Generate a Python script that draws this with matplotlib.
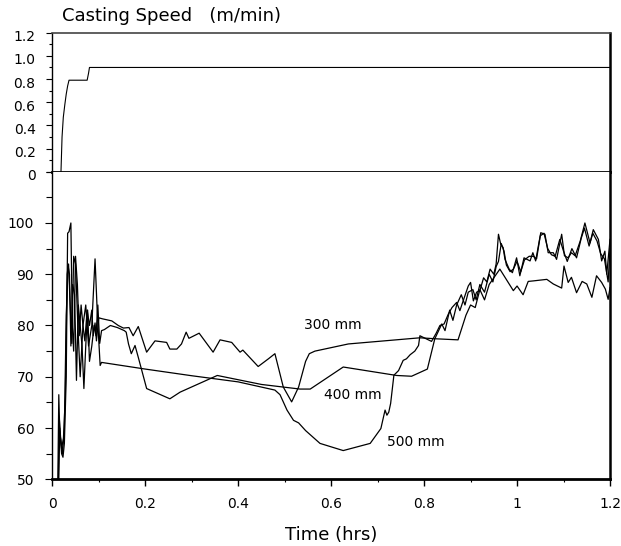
import matplotlib
matplotlib.use("Agg")
import matplotlib.pyplot as plt
from matplotlib.ticker import MultipleLocator, FixedLocator, FixedFormatter
from matplotlib.transforms import ScaledTranslation

plt.rcParams['font.family'] = ['DejaVu Sans']

# casting speed (m/min)
speed_t = [0.0187, 0.021, 0.0237, 0.027, 0.030, 0.033, 0.036, 0.040, 0.075, 0.078, 0.080, 1.2]
speed_v = [0.0, 0.30, 0.47, 0.58, 0.67, 0.74, 0.79, 0.79, 0.79, 0.85, 0.90, 0.90]

# 300 mm
t300 = [0.014, 0.016, 0.020, 0.023, 0.026, 0.030, 0.033, 0.036, 0.040, 0.043, 0.046, 0.050,
        0.054, 0.058, 0.062, 0.066, 0.070, 0.075, 0.080, 0.085, 0.088, 0.092, 0.095, 0.100,
        0.108, 0.128, 0.142, 0.153, 0.165, 0.174, 0.185, 0.203, 0.221, 0.246, 0.253, 0.268,
        0.278, 0.288, 0.294, 0.316, 0.346, 0.361, 0.386, 0.404, 0.410, 0.443, 0.465, 0.479,
        0.497, 0.515, 0.530, 0.545, 0.553, 0.565, 0.637, 0.791, 0.827, 0.873, 0.884, 0.890,
        0.900, 0.910, 0.920, 0.930, 0.940, 0.963, 0.992, 1.000, 1.013, 1.024, 1.035, 1.064,
        1.078, 1.096, 1.101, 1.110, 1.117, 1.128, 1.140, 1.150, 1.161, 1.171, 1.182, 1.190,
        1.196, 1.200]
v300 = [50.0, 60.0, 55.0, 54.3, 57.0, 70.0, 98.0, 98.3, 100.0, 80.0, 75.0, 93.5,
        88.0, 78.0, 84.0, 80.0, 77.0, 83.0, 80.0, 83.0, 78.0, 80.5, 77.0, 81.5,
        81.3, 80.9, 80.0, 79.5, 79.6, 78.0, 79.8, 74.8, 77.0, 76.7, 75.4, 75.4,
        76.4, 78.7, 77.5, 78.5, 74.8, 77.2, 76.7, 74.8, 75.2, 72.0, 73.5, 74.5,
        68.0, 65.1, 68.0, 73.0, 74.5, 75.0, 76.4, 77.6, 77.4, 77.2, 80.3, 82.0,
        84.0, 83.5, 87.0, 85.0, 88.0, 91.0, 86.8, 87.7, 86.0, 88.6, 88.7, 89.0,
        88.1, 87.3, 91.6, 88.4, 89.4, 86.4, 88.6, 88.1, 85.5, 89.7, 88.4, 87.1,
        85.1, 87.4]

# 400 mm
t400 = [0.013, 0.015, 0.018, 0.022, 0.026, 0.030, 0.034, 0.037, 0.040, 0.044, 0.048, 0.052,
        0.056, 0.060, 0.064, 0.068, 0.072, 0.076, 0.080, 0.085, 0.090, 0.094, 0.098, 0.102,
        0.106, 0.112, 0.125, 0.140, 0.155, 0.159, 0.164, 0.170, 0.178, 0.185, 0.203, 0.253,
        0.275, 0.355, 0.450, 0.533, 0.555, 0.626, 0.741, 0.773, 0.807, 0.823, 0.838, 0.845,
        0.855, 0.862, 0.870, 0.880, 0.888, 0.895, 0.905, 0.912, 0.920, 0.930, 0.940, 0.948,
        0.955, 0.960, 0.966, 0.972, 0.977, 0.985, 0.992, 1.000, 1.008, 1.016, 1.026, 1.035,
        1.042, 1.050, 1.058, 1.066, 1.074, 1.082, 1.092, 1.100, 1.108, 1.118, 1.128, 1.138,
        1.145, 1.155, 1.163, 1.172, 1.180, 1.188, 1.196, 1.200]
v400 = [50.0, 62.0, 58.0, 55.0, 60.0, 82.0, 91.6, 90.0, 76.0, 88.0, 86.0, 69.3,
        84.0, 80.0, 76.0, 67.7, 76.0, 83.0, 73.0, 76.0, 80.0, 78.0, 84.0, 76.5,
        79.0, 79.2, 80.0, 79.6, 79.0, 78.7, 76.4, 74.5, 76.1, 73.8, 67.7, 65.7,
        67.0, 70.25, 68.5, 67.6, 67.6, 71.9, 70.25, 70.1, 71.5, 77.4, 80.3, 79.0,
        83.0, 81.0, 84.0, 86.0, 84.0, 86.5, 87.0, 85.0, 88.0, 86.5, 90.0, 88.5,
        91.5, 92.5, 96.0, 94.5, 91.8, 90.5, 91.0, 92.5, 90.5, 92.8, 93.5, 93.5,
        93.0, 97.5, 98.0, 95.0, 93.8, 93.5, 96.8, 94.5, 92.5, 95.0, 93.2, 97.0,
        99.0, 95.5, 98.0, 96.5, 94.0, 93.0, 88.5, 95.0]

# 500 mm
t500 = [0.012, 0.014, 0.016, 0.020, 0.024, 0.028, 0.032, 0.035, 0.038, 0.042, 0.046, 0.050,
        0.055, 0.060, 0.066, 0.072, 0.078, 0.085, 0.092, 0.097, 0.103, 0.106, 0.200, 0.300,
        0.400, 0.479, 0.490, 0.505, 0.519, 0.530, 0.545, 0.576, 0.626, 0.684, 0.707, 0.716,
        0.720, 0.724, 0.728, 0.735, 0.745, 0.755, 0.762, 0.770, 0.780, 0.788, 0.791, 0.800,
        0.816, 0.826, 0.834, 0.843, 0.852, 0.860, 0.870, 0.877, 0.884, 0.895, 0.900, 0.906,
        0.913, 0.920, 0.928, 0.935, 0.942, 0.950, 0.955, 0.960, 0.965, 0.970, 0.974, 0.983,
        0.990, 0.999, 1.006, 1.015, 1.028, 1.034, 1.040, 1.051, 1.060, 1.067, 1.078, 1.085,
        1.096, 1.102, 1.110, 1.117, 1.125, 1.136, 1.146, 1.157, 1.164, 1.175, 1.182, 1.189,
        1.193, 1.200]
v500 = [50.0, 66.5, 59.5, 56.0, 58.0, 66.0, 90.0, 92.0, 85.0, 76.5, 93.5, 92.0,
        80.0, 70.0, 80.0, 84.0, 76.0, 80.0, 93.0, 82.0, 72.2, 72.8, 71.5, 70.2,
        69.0, 67.4, 66.5, 63.5, 61.5, 61.0, 59.5, 57.0, 55.6, 57.0, 59.9, 63.5,
        62.5, 63.1, 64.8, 70.3, 71.2, 73.2, 73.5, 74.3, 75.0, 76.1, 78.0, 77.6,
        76.9, 78.5, 80.0, 80.3, 82.2, 83.5, 84.5, 82.9, 84.8, 87.7, 88.4, 84.8,
        86.5, 86.8, 89.3, 88.5, 91.0, 90.0, 92.0, 97.8, 95.8, 95.2, 92.9, 91.0,
        90.3, 93.2, 89.7, 93.2, 92.6, 94.2, 92.6, 98.1, 97.8, 94.2, 94.2, 92.9,
        97.8, 93.6, 93.2, 94.2, 93.6, 96.5, 100.0, 96.1, 98.7, 96.8, 92.6, 94.5,
        90.0, 96.8]

x_ticks = [0, 0.2, 0.4, 0.6, 0.8, 1.0, 1.2]
x_labels = ["0", "0.2", "0.4", "0.6", "0.8", "1", "1.2"]
top_ticks = [0, 0.2, 0.4, 0.6, 0.8, 1.0, 1.2]
top_labels = ["0", "0.2", "0.4", "0.6", "0.8", "1.0", "1.2"]
bot_ticks = [50, 60, 70, 80, 90, 100]

fig = plt.figure(figsize=(6.21, 5.46), dpi=100)
ax_top = fig.add_axes([0.0842, 0.6855, 0.8981, 0.2546])
ax_bot = fig.add_axes([0.0842, 0.1222, 0.8981, 0.5633])

# casting speed panel
ax_top.plot(speed_t, speed_v, color='black', lw=0.8)
ax_top.set_xlim(0, 1.2)
ax_top.set_ylim(0, 1.2)
ax_top.yaxis.set_major_locator(FixedLocator(top_ticks))
ax_top.yaxis.set_major_formatter(FixedFormatter(top_labels))
ax_top.yaxis.set_minor_locator(MultipleLocator(0.1))
ax_top.set_xticks([])
ax_top.spines['top'].set_linewidth(1.2)
ax_top.spines['top'].set_color('#444444')
ax_top.spines['left'].set_linewidth(1.0)
ax_top.spines['right'].set_linewidth(1.8)
ax_top.spines['bottom'].set_linewidth(2.0)
ax_top.tick_params(axis='y', which='major', length=4, width=0.8, pad=8, labelsize=10)
ax_top.tick_params(axis='y', which='minor', length=2, width=0.8)
# labels sit a little below their ticks in the original
shift = ScaledTranslation(0, -3 / 100, fig.dpi_scale_trans)
for lab in ax_top.get_yticklabels():
    lab.set_transform(lab.get_transform() + shift)

# strand lines
ax_bot.plot(t300, v300, color='black', lw=0.9)
ax_bot.plot(t400, v400, color='black', lw=0.9)
ax_bot.plot(t500, v500, color='black', lw=0.9)
ax_bot.text(0.603, 79.4, "300 mm", fontsize=10, ha='center', va='baseline')
ax_bot.text(0.647, 65.6, "400 mm", fontsize=10, ha='center', va='baseline')
ax_bot.text(0.783, 56.4, "500 mm", fontsize=10, ha='center', va='baseline')

ax_bot.set_xlim(0, 1.2)
ax_bot.set_ylim(50, 110)
ax_bot.set_yticks(bot_ticks)
ax_bot.yaxis.set_minor_locator(MultipleLocator(5))
ax_bot.xaxis.set_major_locator(FixedLocator(x_ticks))
ax_bot.xaxis.set_major_formatter(FixedFormatter(x_labels))
ax_bot.xaxis.set_minor_locator(MultipleLocator(0.1))
ax_bot.spines['top'].set_visible(False)
ax_bot.spines['left'].set_linewidth(1.0)
ax_bot.spines['right'].set_linewidth(1.8)
ax_bot.spines['bottom'].set_linewidth(2.0)
ax_bot.tick_params(axis='y', which='major', length=5, width=0.8, pad=8, labelsize=10)
ax_bot.tick_params(axis='y', which='minor', length=4, width=0.8)
ax_bot.tick_params(axis='x', which='major', length=5, width=1.0, pad=8, labelsize=10)
ax_bot.tick_params(axis='x', which='minor', length=2, width=0.8)
ax_bot.set_xlabel("Time (hrs)", fontsize=13, va='center')
ax_bot.xaxis.set_label_coords(0.5, -0.181)

fig.text(62 / 621, 1 - 20.7 / 546, "Casting Speed   (m/min)", fontsize=13, va='baseline', ha='left')

fig.savefig("out.png", dpi=100)
